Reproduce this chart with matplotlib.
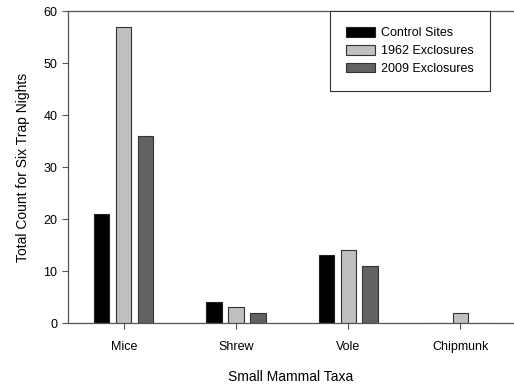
import numpy as np
from matplotlib import pyplot as plt

taxa = ['Mice', 'Shrew', 'Vole', 'Chipmunk']
control = [21, 4, 13, 0]
excl_1962 = [57, 3, 14, 2]
excl_2009 = [36, 2, 11, 0]

plt.rcParams['font.family'] = ['Liberation Sans', 'DejaVu Sans']

fig = plt.figure(dpi=100, figsize=(5.14, 3.86))
ax = fig.add_axes([0.132, 0.163, 0.868, 0.8085])

x = np.arange(len(taxa))
w = 0.135
off = 0.196
ax.bar(x - off, control, w, color='black', edgecolor='#222222', linewidth=0.8, label='Control Sites')
ax.bar(x, excl_1962, w, color='#c0c0c0', edgecolor='#333333', linewidth=0.8, label='1962 Exclosures')
ax.bar(x + off, excl_2009, w, color='#626262', edgecolor='#333333', linewidth=0.8, label='2009 Exclosures')

ax.set_xlim(-0.5, 3.48)
ax.set_ylim(0, 60)
ax.set_yticks(range(0, 61, 10))
ax.set_xticks(x)
ax.set_xticklabels(taxa)
ax.spines['right'].set_visible(False)
for s in ['left', 'bottom', 'top']:
    ax.spines[s].set_color('#555555')
    ax.spines[s].set_linewidth(0.9)
ax.tick_params(axis='both', direction='out', length=4, width=0.8, color='#555555', labelsize=9)
ax.tick_params(axis='x', pad=9)

ax.set_xlabel('Small Mammal Taxa', fontsize=10, labelpad=12)
ax.set_ylabel('Total Count for Six Trap Nights', fontsize=10, labelpad=10)

leg = ax.legend(loc='upper left', bbox_to_anchor=(0.587, 1.0), fontsize=9, fancybox=False,
                edgecolor='#333333', framealpha=1, handlelength=2.3, handleheight=0.8,
                borderpad=1.3, labelspacing=0.45, handletextpad=0.5, borderaxespad=0)
leg.get_frame().set_linewidth(0.8)

plt.savefig('out.png')
